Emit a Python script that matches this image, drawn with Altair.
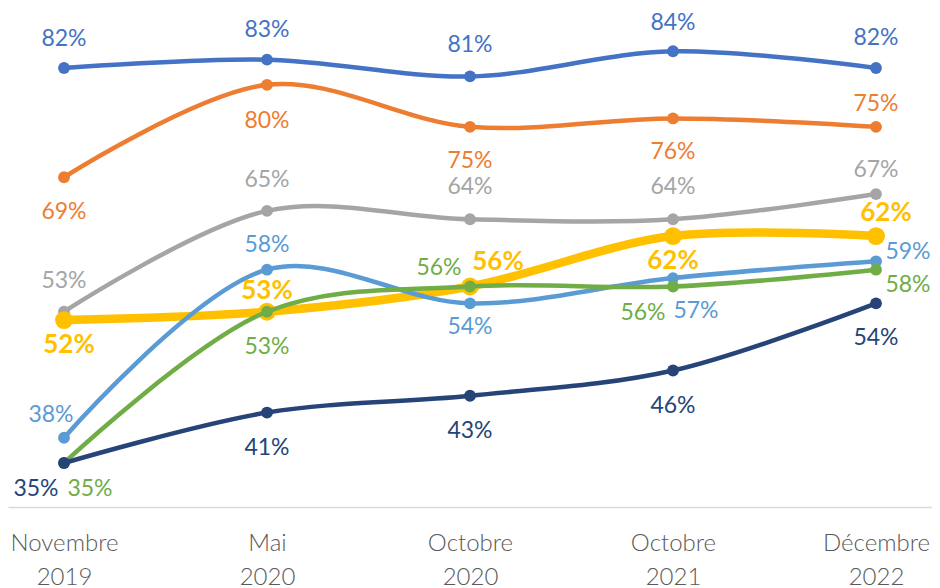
import altair as alt
import pandas as pd

periods = ["Novembre 2019", "Mai 2020", "Octobre 2020", "Octobre 2021", "Décembre 2022"]

series_names = ["S1", "S2", "S3", "S4", "S5", "S6", "S7"]
s1 = [82, 83, 81, 84, 82]
s2 = [69, 80, 75, 76, 75]
s3 = [53, 65, 64, 64, 67]
s4 = [52, 53, 56, 62, 62]
s5 = [38, 58, 54, 57, 59]
s6 = [35, 53, 56, 56, 58]
s7 = [35, 41, 43, 46, 54]
values = [s1, s2, s3, s4, s5, s6, s7]

# styling
colors = ["#4472C4", "#ED7D31", "#A5A5A5", "#FFC000", "#5B9BD5", "#70AD47", "#264478"]
widths = [4.5, 4.5, 4.5, 8.5, 4.5, 4.5, 4.5]
psizes = [140, 140, 140, 320, 140, 140, 140]
# label offsets (dx, dy) in pixels for each point
offsets = [
    [(0, -29), (0, -30), (0, -31), (0, -28), (0, -30)],
    [(0, 35), (0, 36), (0, 34), (0, 34), (0, -23)],
    [(0, -31), (0, -31), (0, -32), (0, -32), (0, -24)],
    [(5, 25), (0, -21), (28, -25), (0, 25), (10, -23)],
    [(-13, -23), (0, -25), (0, 24), (23, 33), (32, -9)],
    [(26, 26), (0, 35), (-31, -19), (-30, 26), (32, 15)],
    [(-28, 26), (0, 35), (0, 35), (0, 35), (0, 35)],
]

rows = []
for si, (name, vals) in enumerate(zip(series_names, values)):
    for pi, (p, v) in enumerate(zip(periods, vals)):
        rows.append({
            "series": name, "period": p, "value": v, "label": f"{v}%",
            "pidx": pi,
        })
df = pd.DataFrame(rows)

x_enc = alt.X(
    "period:O",
    sort=periods,
    scale=alt.Scale(type="point", padding=0.2759),
    axis=alt.Axis(
        title=None,
        labelAngle=0,
        labelExpr="split(datum.label, ' ')",
        labelFont="Lato",
        labelFontSize=24,
        labelFontWeight=300,
        labelColor="#595959",
        labelLineHeight=34,
        labelPadding=24,
        ticks=False,
        domainColor="#D9D9D9",
        domainWidth=1.5,
        grid=False,
    ),
)
y_scale = alt.Scale(domain=[29.76, 88.43], nice=False, zero=False)
y_enc = alt.Y("value:Q", scale=y_scale, axis=None)

layers = []
for si, name in enumerate(series_names):
    base = alt.Chart(df).transform_filter(alt.datum.series == name)
    layers.append(
        base.mark_line(
            color=colors[si], strokeWidth=widths[si], interpolate="catmull-rom"
        ).encode(x=x_enc, y=y_enc)
    )
    layers.append(
        base.mark_point(
            color=colors[si], filled=True, opacity=1, size=psizes[si]
        ).encode(x=x_enc, y=y_enc)
    )

for si, name in enumerate(series_names):
    for pi in range(len(periods)):
        dx, dy = offsets[si][pi]
        base = alt.Chart(df).transform_filter(
            (alt.datum.series == name) & (alt.datum.pidx == pi)
        )
        layers.append(
            base.mark_text(
                color=colors[si],
                font="Lato",
                fontSize=26 if si == 3 else 23,
                fontWeight="bold" if si == 3 else "normal",
                align="center",
                baseline="middle",
                dx=dx,
                dy=dy,
            ).encode(x=x_enc, y=y_enc, text="label:N")
        )

chart = (
    alt.layer(*layers)
    .properties(
        width=924,
        height=493,
        autosize=alt.AutoSizeParams(type="none"),
        padding={"left": 0, "top": 6, "right": 0, "bottom": 81},
    )
    .configure_view(stroke=None)
)

chart.save("out.html", embed_options={"renderer": "svg", "actions": False})
